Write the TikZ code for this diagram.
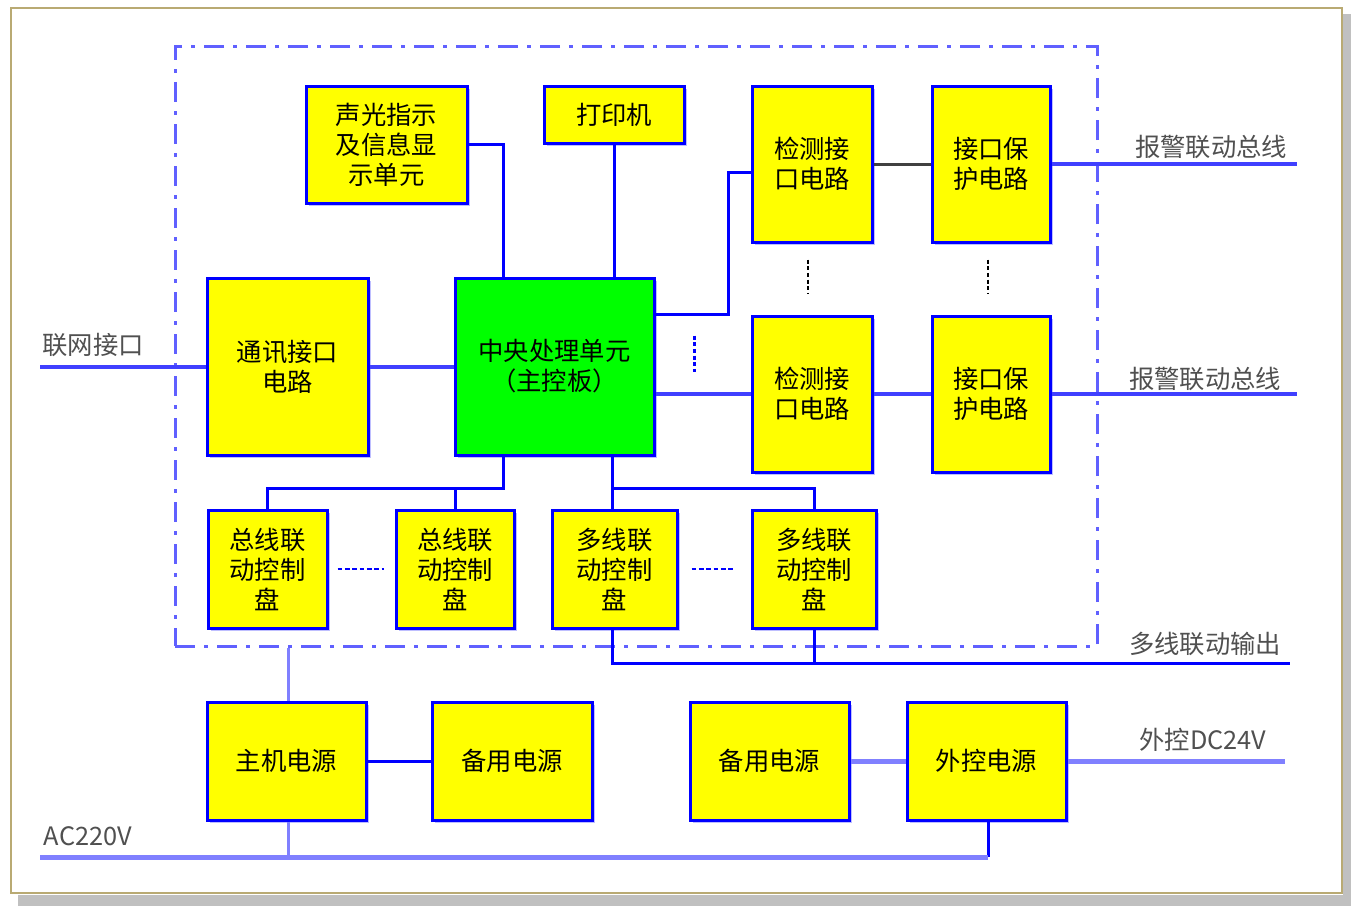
\documentclass[tikz,border=0pt]{standalone}
\usepackage{fontspec}
\setmainfont{Noto Sans CJK SC}
\usetikzlibrary{calc,shadows}
\definecolor{framec}{RGB}{185,170,115}
\definecolor{shadowgray}{RGB}{192,192,192}
\definecolor{bb}{RGB}{0,0,255}
\definecolor{lb}{RGB}{128,128,255}
\definecolor{mb}{RGB}{64,64,255}
\definecolor{ddc}{RGB}{96,96,255}
\definecolor{bsh}{RGB}{190,190,255}
\definecolor{yel}{RGB}{255,255,0}
\definecolor{grn}{RGB}{0,255,0}
\definecolor{labc}{RGB}{80,80,80}
\begin{document}
\begin{tikzpicture}[x=0.75pt,y=-0.75pt,
  sz/.style 2 args={minimum width=#1*0.75pt, minimum height=#2*0.75pt},
  box/.style={draw=bb, line width=2.25pt, fill=yel, inner sep=0pt, align=center,
    font=\fontsize{19}{22.5}\selectfont, text=black,
    drop shadow={shadow xshift=2.5pt, shadow yshift=-2.5pt, fill=bsh, opacity=1}},
  lab/.style={font=\fontsize{19}{22.5}\selectfont, text=labc, inner sep=0pt},
  ln/.style={draw=bb, line width=2.25pt},
  lnl/.style={draw=lb, line width=3.75pt},
  lnm/.style={draw=mb, line width=3pt},
  dots/.style={draw=bb, line width=1.6pt, dash pattern=on 3.5pt off 2pt},
  vdots/.style={draw=#1, line width=1.6pt, dash pattern=on 3pt off 2pt},
  ddframe/.style={draw=ddc, line width=2.25pt, dash pattern=on 15pt off 7pt on 2.5pt off 7pt, inner sep=0pt}
]
\useasboundingbox (0,0) rectangle (1351,906);
\fill[white] (0,0) rectangle (1351,906);
\fill[shadowgray] (1343,14) rectangle (1351,906);
\fill[shadowgray] (18,895) rectangle (1351,906);
\draw[framec, line width=1.5pt] (11,8) rectangle (1342,893);

% dash-dot frame
\node[ddframe, sz={922}{599}] (fr) at (636,346.5) {};

% boxes
\node[box, sz={161}{117}] (sg) at (386.5,144.5) {声光指示\\及信息显\\示单元};
\node[box, sz={140}{57}] (dy) at (614,114.5) {打印机};
\node[box, sz={120}{156}] (jc1) at (812,164) {检测接\\口电路};
\node[box, sz={118}{156}] (bh1) at (991,164) {接口保\\护电路};
\node[box, sz={161}{177}] (tx) at (287.5,366.5) {通讯接口\\电路};
\node[box, fill=grn, sz={199}{177}] (cpu) at (554.5,366.5) {中央处理单元\\（主控板）};
\node[box, sz={120}{156}] (jc2) at (812,394) {检测接\\口电路};
\node[box, sz={118}{156}] (bh2) at (991,394) {接口保\\护电路};
\node[box, sz={119}{118}] (zx1) at (267.5,569) {总线联\\动控制\\盘};
\node[box, sz={118}{118}] (zx2) at (455,569) {总线联\\动控制\\盘};
\node[box, sz={125}{118}] (dx1) at (614.5,569) {多线联\\动控制\\盘};
\node[box, sz={124}{118}] (dx2) at (814,569) {多线联\\动控制\\盘};
\node[box, sz={159}{118}] (zj) at (286.5,761) {主机电源};
\node[box, sz={160}{118}] (by1) at (512,761) {备用电源};
\node[box, sz={159}{118}] (by2) at (769.5,761) {备用电源};
\node[box, sz={159}{118}] (wk) at (986.5,761) {外控电源};

% labels
\node[lab] (l0) at (93,345) {联网接口};
\node[lab] (l1) at (1211,147) {报警联动总线};
\node[lab] (l2) at (1205,379) {报警联动总线};
\node[lab] (l3) at (1205,644) {多线联动输出};
\node[lab] (l4) at (1203,740) {外控DC24V};
\node[lab] (l5) at (88,836) {AC220V};

% free ends
\coordinate (e0) at (40,366.5);
\coordinate (e1) at (1297,164);
\coordinate (e2) at (1297,394);
\coordinate (e3) at (1290,663);
\coordinate (e4) at (1285,761);
\coordinate (e5) at (40,857);

% connectors
\draw[ln] (sg.east) -| ($(cpu.north west)+(50,0)$);
\draw[ln] (dy.south) -- (dy.south |- cpu.north);
\draw[ln] ($(cpu.north east)+(0,38)$) -- ++(73,0) |- ($(jc1.west)+(0,8)$);
\draw[draw=black!75, line width=2.25pt] (jc1.east) -- (bh1.west);
\draw[lnm] (bh1.east) -- (e1);
\draw[lnm] (jc2.west -| cpu.east) -- (jc2.west);
\draw[lnm] (jc2.east) -- (bh2.west);
\draw[lnm] (bh2.east) -- (e2);
\draw[lnm] (tx.west) -- (e0);
\draw[lnm] (tx.east) -- (cpu.west);
\draw[ln] ($(cpu.south west)+(50,0)$) |- ($(zx1.north)+(0,-20)$) -- (zx1.north);
\draw[ln] (zx2.north) -- ($(zx2.north)+(0,-20)$);
\draw[ln] ($(dx1.north |- cpu.south)+(-2,0)$) -- ($(dx1.north)+(-2,0)$);
\draw[ln] ($(dx1.north)+(-2,-20)$) -| (dx2.north);
\draw[ln] ($(dx1.south)+(-2,0)$) |- (e3);
\draw[ln] (dx2.south) -- (dx2.south |- e3);
\draw[dots] ($(zx1.east)+(9,0)$) -- ($(zx2.west)+(-11,0)$);
\draw[dots] ($(dx1.east)+(13,0)$) -- ($(dx2.west)+(-17,0)$);
\draw[vdots=bb] ($(cpu.north east)+(39,59)$) -- ++(0,36);
\draw[vdots=black] ($(jc1.south)+(-4,16)$) -- ($(jc2.north)+(-4,-21)$);
\draw[vdots=black] ($(bh1.south)+(-3,16)$) -- ($(bh2.north)+(-3,-21)$);
\draw[draw=lb, line width=2.25pt] ($(zj.north)+(1.5,0)$) -- ($(zj.north |- fr.south)+(1.5,0)$);
\draw[ln] (zj.east) -- (by1.west);
\draw[lnl] (by2.east) -- (wk.west);
\draw[lnl] (wk.east) -- (e4);
\draw[ln] ($(wk.south)+(1.5,0)$) -- ($(wk.south |- e5)+(1.5,0)$);
\draw[lnl] ($(wk.south |- e5)+(1.5,0)$) -- (e5);
\draw[draw=lb, line width=2.25pt] ($(zj.south)+(1.5,0)$) -- ($(zj.south |- e5)+(1.5,0)$);
\end{tikzpicture}
\end{document}
